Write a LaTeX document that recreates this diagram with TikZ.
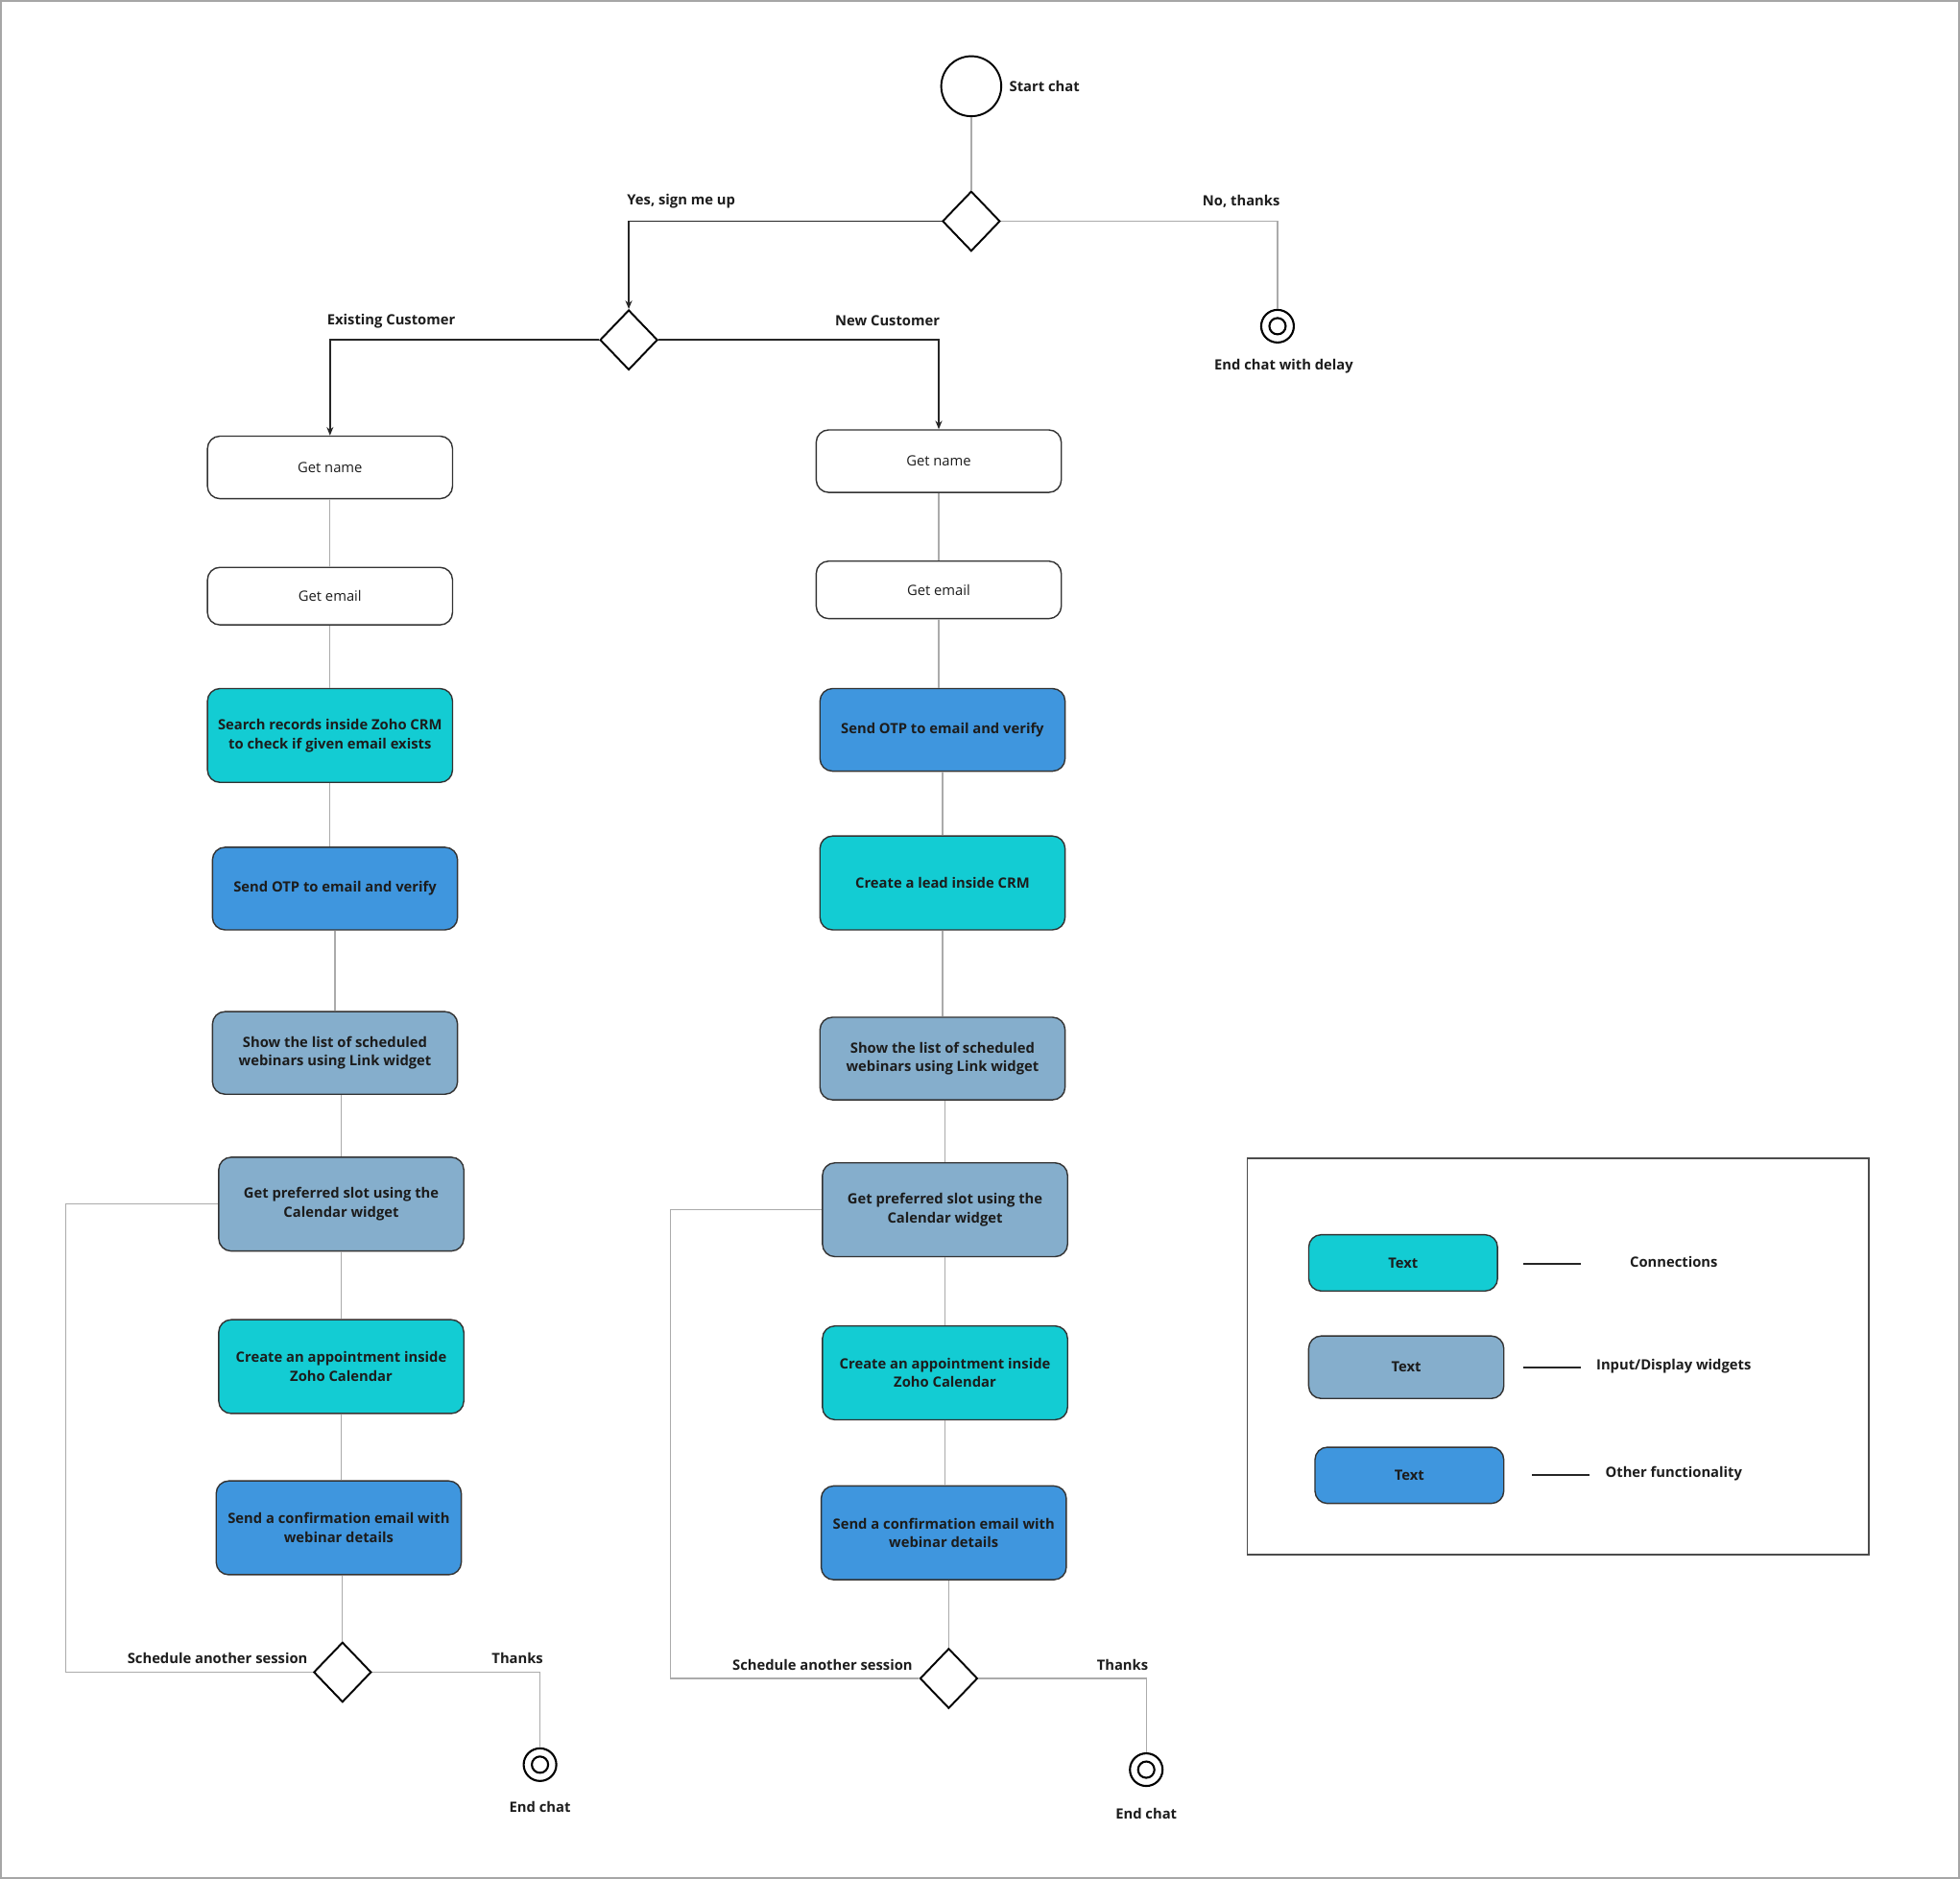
\documentclass[tikz,border=0pt]{standalone}
\usepackage{fontspec}
\setmainfont{Open Sans}
\usetikzlibrary{shapes.geometric,arrows.meta}
\definecolor{cCyan}{HTML}{13CCD3}
\definecolor{cGrey}{HTML}{85AECC}
\definecolor{cBlue}{HTML}{3F96DE}
\definecolor{cText}{HTML}{1C1C1C}
\definecolor{cLine}{HTML}{ABABAB}
\newcommand\fsz{\fontsize{4.2}{5.6}\selectfont}
\begin{document}
\begin{tikzpicture}[x=0.013023cm, y=-0.013023cm,
  every node/.style={text=cText},
  lbl/.style={font=\fsz\bfseries, inner sep=0pt},
  box/.style={rectangle, rounded corners=0.13cm, draw=black!80, line width=0.4pt,
    minimum width=2.552cm, align=center, font=\fsz\bfseries, inner sep=1pt},
  wbox/.style={box, fill=white, font=\fsz},
  cbox/.style={box, fill=cCyan},
  gbox/.style={box, fill=cGrey},
  bbox/.style={box, fill=cBlue},
  h50/.style={minimum height=0.651cm},
  h46/.style={minimum height=0.599cm},
  h75/.style={minimum height=0.977cm},
  h66/.style={minimum height=0.86cm},
  dec/.style={diamond, draw=black, line width=0.55pt, minimum width=0.6cm, minimum height=0.625cm, inner sep=0pt, fill=white},
  endc/.style={circle, draw=black, line width=0.6pt, minimum size=0.34cm, inner sep=0pt,
    path picture={\draw[line width=0.6pt] (path picture bounding box.center) circle (0.085cm);}},
  conn/.style={draw=cLine, line width=0.35pt},
  blk/.style={draw=black!85, line width=0.5pt, -{Stealth[length=2.5pt,width=2pt]}},
  legline/.style={draw=black!85, line width=0.5pt},
]
\useasboundingbox (0,0) rectangle (1568,1503.5);
\draw[gray!70, line width=0.7pt] (0.8,0.8) rectangle (1567.2,1502.7);

% top
\node[circle, draw=black, line width=0.55pt, minimum size=0.625cm, inner sep=0pt] (start) at (777,69) {};
\node[lbl, anchor=west] (startl) at (807,69) {Start chat};
\node[dec] (d1) at (777,177) {};
\node[lbl] (yesl) at (545,161) {Yes, sign me up};
\node[lbl] (nol) at (993,161) {No, thanks};
\node[endc] (e0) at (1022,261) {};
\node[lbl] (e0l) at (1027,293) {End chat with delay};
\node[dec] (d2) at (503,272) {};
\node[lbl] (exl) at (313,257) {Existing Customer};
\node[lbl] (nwl) at (710,257) {New Customer};

\draw[conn] (start) -- (d1);
\draw[blk] (d1.west) -| (d2.north);
\draw[conn] (d1.east) -| (e0.north);

% left column
\node[wbox,h50] (l1) at (264,374) {Get name};
\node[wbox,h46] (l2) at (264,477) {Get email};
\node[cbox,h75] (l3) at (264,588.5) {Search records inside Zoho CRM\\to check if given email exists};
\node[bbox,h66] (l4) at (268,711) {Send OTP to email and verify};
\node[gbox,h66] (l5) at (268,842.5) {Show the list of scheduled\\webinars using Link widget};
\node[gbox,h75] (l6) at (273,963.5) {Get preferred slot using the\\Calendar widget};
\node[cbox,h75] (l7) at (273,1093.5) {Create an appointment inside\\Zoho Calendar};
\node[bbox,h75] (l8) at (271,1222.5) {Send a confirmation email with\\webinar details};
\node[dec] (d3) at (274,1338) {};
\node[lbl] (schl) at (174,1327) {Schedule another session};
\node[lbl] (thl) at (414,1327) {Thanks};
\node[endc] (e1) at (432,1412) {};
\node[lbl] (e1l) at (432,1446) {End chat};

\draw[blk] (d2.west) -| (l1.north);
\draw[conn] (l1.south) -- (l1.south |- l2.north);
\draw[conn] (l2.south) -- (l2.south |- l3.north);
\draw[conn] (l3.south) -- (l3.south |- l4.north);
\draw[conn] (l4.south) -- (l4.south |- l5.north);
\draw[conn] (l6.north |- l5.south) -- (l6.north);
\draw[conn] (l6.south) -- (l6.south |- l7.north);
\draw[conn] (l7.south) -- (l7.south |- l8.north);
\draw[conn] (d3.north |- l8.south) -- (d3.north);
\draw[conn] (l6.west) -- ++(-122,0) |- (d3.west);
\draw[conn] (d3.east) -| (e1.north);

% right column
\node[wbox,h50] (r1) at (751,369) {Get name};
\node[wbox,h46] (r2) at (751,472) {Get email};
\node[bbox,h66] (r3) at (754,584) {Send OTP to email and verify};
\node[cbox,h75] (r4) at (754,706.5) {Create a lead inside CRM};
\node[gbox,h66] (r5) at (754,847) {Show the list of scheduled\\webinars using Link widget};
\node[gbox,h75] (r6) at (756,968) {Get preferred slot using the\\Calendar widget};
\node[cbox,h75] (r7) at (756,1098.5) {Create an appointment inside\\Zoho Calendar};
\node[bbox,h75] (r8) at (755,1226.5) {Send a confirmation email with\\webinar details};
\node[dec] (d4) at (759,1343) {};
\node[lbl] (sch2l) at (658,1332) {Schedule another session};
\node[lbl] (th2l) at (898,1332) {Thanks};
\node[endc] (e2) at (917,1416) {};
\node[lbl] (e2l) at (917,1451) {End chat};

\draw[blk] (d2.east) -| (r1.north);
\draw[conn] (r1.south) -- (r1.south |- r2.north);
\draw[conn] (r2.south) -- (r2.south |- r3.north);
\draw[conn] (r3.south) -- (r3.south |- r4.north);
\draw[conn] (r4.south) -- (r4.south |- r5.north);
\draw[conn] (r6.north |- r5.south) -- (r6.north);
\draw[conn] (r6.south) -- (r6.south |- r7.north);
\draw[conn] (r7.south) -- (r7.south |- r8.north);
\draw[conn] (d4.north |- r8.south) -- (d4.north);
\draw[conn] (r6.west) -- ++(-121,0) |- (d4.west);
\draw[conn] (d4.east) -| (e2.north);

% legend
\node[draw=black!70, line width=0.45pt, minimum width=6.472cm, minimum height=4.128cm, inner sep=0pt] (leg) at (1246.5,1085.5) {};
\node[cbox, minimum width=1.966cm, minimum height=0.586cm] (g1) at (1122.5,1010.5) {Text};
\node[gbox, minimum width=2.032cm, minimum height=0.651cm] (g2) at (1125,1094) {Text};
\node[bbox, minimum width=1.966cm, minimum height=0.586cm] (g3) at (1127.5,1180.5) {Text};
\node[lbl] (g1l) at (1339,1010) {Connections};
\node[lbl] (g2l) at (1339,1093) {Input/Display widgets};
\node[lbl] (g3l) at (1339,1179) {Other functionality};
\draw[legline] (g1.east) ++(20,0.5) -- ++(46,0);
\draw[legline] (g2.east) ++(15,0) -- ++(46,0);
\draw[legline] (g3.east) ++(22,-0.5) -- ++(46,0);
\end{tikzpicture}
\end{document}
